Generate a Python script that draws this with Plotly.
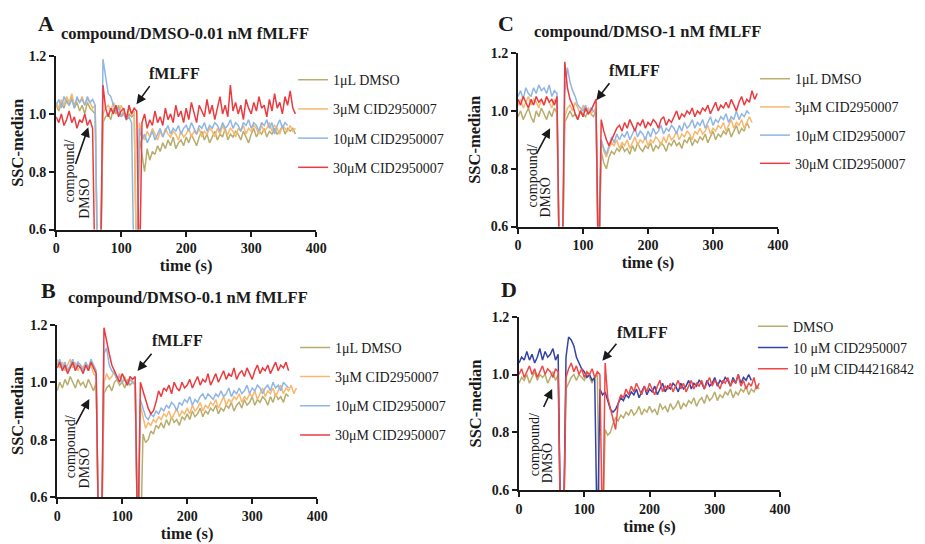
import plotly.graph_objects as go

W, H = 925, 544
# Measured page placement of the figure in the captured picture: origin offset + scale
OX, OY, SX, SY = 12.0, 16.0, 0.98, 0.97
FW, FH = 931, 544
T = list(range(0, 372, 4))  # sampling times (s)

# ---------------- Panel A: 0.01 nM fMLFF ----------------
A_dmso = [1.03,1.01,1.04,1.02,1.05,1.03,1.06,1.02,1.04,1.01,
          1.03,1.00,1.04,1.02,1.01,1.00,0.40,0.40,0.97,0.99,
          1.00,0.98,1.02,1.00,1.03,0.99,1.01,0.98,1.00,0.99,
          1.00,0.40,0.92,0.85,0.80,0.88,0.84,0.87,0.86,0.89,
          0.87,0.90,0.88,0.91,0.89,0.92,0.88,0.90,0.91,0.89,
          0.92,0.90,0.93,0.91,0.89,0.92,0.94,0.91,0.93,0.90,
          0.92,0.94,0.91,0.93,0.92,0.95,0.91,0.93,0.92,0.94,
          0.93,0.91,0.94,0.92,0.90,0.93,0.95,0.92,0.94,0.93,
          0.95,0.92,0.94,0.93,0.95,0.93,0.94,0.96,0.93,0.95,
          0.94,0.95,0.93]
A_3uM = [1.04,1.02,1.05,1.03,1.06,1.04,1.07,1.03,1.05,1.04,
         1.06,1.03,1.05,1.04,1.02,1.03,0.40,0.40,1.00,1.02,
         1.03,1.01,1.04,1.02,1.00,1.03,1.01,0.99,1.02,1.00,
         1.01,0.40,0.97,0.93,0.91,0.94,0.92,0.95,0.93,0.91,
         0.94,0.92,0.95,0.93,0.92,0.94,0.93,0.91,0.94,0.92,
         0.93,0.95,0.92,0.94,0.93,0.95,0.92,0.94,0.93,0.95,
         0.94,0.92,0.95,0.93,0.96,0.94,0.93,0.95,0.94,0.92,
         0.95,0.94,0.96,0.93,0.95,0.94,0.96,0.95,0.93,0.96,
         0.94,0.95,0.97,0.94,0.96,0.95,0.93,0.96,0.95,0.94,
         0.96,0.94,0.95]
A_10uM = [1.03,1.05,1.02,1.06,1.04,1.03,1.05,1.02,1.06,1.04,
          1.05,1.03,1.06,1.04,1.05,1.03,0.40,0.40,1.19,1.12,
          1.07,1.06,1.03,1.01,1.02,0.99,1.00,0.98,0.99,0.97,
          0.40,0.40,0.95,0.91,0.93,0.90,0.92,0.94,0.91,0.93,
          0.95,0.92,0.94,0.96,0.93,0.95,0.94,0.96,0.93,0.95,
          0.96,0.94,0.97,0.95,0.93,0.96,0.95,0.97,0.94,0.96,
          0.95,0.97,0.96,0.94,0.97,0.95,0.96,0.98,0.95,0.97,
          0.96,0.94,0.97,0.96,0.98,0.95,0.97,0.96,0.94,0.97,
          0.96,0.98,0.95,0.97,0.93,0.96,0.98,0.95,0.97,0.96]
A_30uM = [0.99,0.97,1.00,0.96,0.98,1.01,0.97,0.99,0.95,0.98,
          0.97,1.00,0.96,0.98,0.95,0.40,0.40,0.40,1.10,1.02,
          0.99,1.02,1.00,1.03,0.99,1.01,1.02,0.98,1.03,1.00,
          1.02,1.01,0.40,0.97,1.00,0.95,0.98,0.96,1.01,0.97,
          0.99,0.96,1.02,0.98,1.00,0.97,1.03,0.99,1.01,0.97,
          1.02,0.98,1.04,1.00,0.97,1.03,1.01,0.99,1.05,1.00,
          1.03,0.98,1.02,1.06,1.00,1.03,0.99,1.10,1.01,1.04,
          1.00,1.03,0.98,1.05,1.02,1.00,1.04,1.01,1.06,1.02,
          1.03,0.99,1.05,1.01,1.07,1.02,1.04,1.00,1.06,1.03,
          1.08,1.02,1.00]

# ---------------- Panel B: 0.1 nM fMLFF ----------------
B_dmso = [0.97,1.00,0.98,1.01,0.99,1.02,1.00,0.98,1.01,0.99,
          1.00,0.98,1.01,0.99,0.97,1.00,0.40,0.40,0.96,0.98,
          0.99,0.97,1.00,1.01,0.99,1.00,0.98,1.01,0.99,1.00,
          1.00,0.40,0.40,0.82,0.79,0.80,0.83,0.82,0.85,0.84,
          0.86,0.84,0.87,0.85,0.88,0.86,0.87,0.85,0.88,0.87,
          0.89,0.87,0.90,0.88,0.89,0.91,0.88,0.90,0.89,0.91,
          0.90,0.92,0.89,0.91,0.90,0.92,0.91,0.93,0.90,0.92,
          0.93,0.91,0.94,0.92,0.93,0.95,0.92,0.94,0.93,0.95,
          0.94,0.92,0.95,0.93,0.96,0.94,0.95,0.93,0.96,0.95]
B_3uM = [1.08,1.05,1.07,1.04,1.06,1.08,1.05,1.07,1.04,1.06,
         1.05,1.07,1.04,1.06,1.03,1.02,0.40,0.40,1.00,1.03,
         1.01,1.02,1.04,1.01,1.03,1.00,1.02,0.99,1.01,1.00,
         1.00,0.40,0.92,0.88,0.84,0.86,0.85,0.87,0.86,0.88,
         0.87,0.89,0.88,0.90,0.87,0.89,0.91,0.88,0.90,0.89,
         0.91,0.89,0.92,0.90,0.91,0.93,0.90,0.92,0.91,0.93,
         0.92,0.94,0.91,0.93,0.95,0.92,0.94,0.93,0.95,0.94,
         0.96,0.93,0.95,0.94,0.96,0.95,0.97,0.94,0.96,0.98,
         0.95,0.97,0.96,0.98,0.95,0.97,0.99,0.96,0.98,0.97,
         0.99,0.96,0.98]
B_10uM = [1.06,1.08,1.05,1.07,1.04,1.06,1.08,1.05,1.07,1.06,
          1.04,1.07,1.05,1.08,1.06,1.04,0.40,0.40,1.10,1.12,
          1.06,1.04,1.03,1.01,1.02,1.00,1.01,0.99,1.01,1.00,
          0.99,0.40,0.94,0.91,0.88,0.87,0.89,0.88,0.90,0.89,
          0.91,0.90,0.92,0.91,0.93,0.92,0.90,0.93,0.92,0.94,
          0.93,0.95,0.92,0.94,0.93,0.95,0.96,0.94,0.96,0.95,
          0.94,0.96,0.95,0.97,0.95,0.96,0.98,0.95,0.97,0.96,
          0.98,0.96,0.97,0.99,0.96,0.98,0.97,0.99,0.98,0.96,
          0.98,0.99,0.97,1.00,0.98,0.99,0.97,1.00,0.99,0.98]
B_30uM = [1.05,1.07,1.04,1.06,1.03,1.05,1.07,1.04,1.06,1.05,
          1.03,1.06,1.04,1.07,1.05,1.03,0.40,0.40,1.19,1.14,
          1.10,1.06,1.04,1.02,1.00,1.03,1.01,0.99,1.02,1.01,
          1.02,0.40,1.00,0.97,0.94,0.91,0.89,0.90,0.93,0.97,
          0.95,0.98,0.97,0.99,0.96,1.00,0.98,0.97,1.00,0.98,
          0.99,1.01,0.98,1.00,1.02,0.99,1.01,1.00,1.03,0.99,
          1.01,1.03,1.00,1.02,1.04,1.01,1.03,1.02,1.05,1.01,
          1.03,1.04,1.02,1.05,1.03,1.01,1.04,1.06,1.03,1.05,
          1.04,1.06,1.03,1.05,1.07,1.04,1.06,1.05,1.07,1.04]

# ---------------- Panel C: 1 nM fMLFF ----------------
C_dmso = [0.98,1.00,0.97,0.99,1.01,0.98,0.96,1.00,0.98,1.01,
          0.99,0.97,1.00,0.98,1.01,0.99,0.40,0.40,0.96,0.98,
          1.00,0.98,0.99,0.97,1.00,0.99,0.98,1.00,0.99,0.98,
          1.00,0.40,0.86,0.82,0.80,0.84,0.86,0.85,0.87,0.86,
          0.88,0.86,0.87,0.85,0.88,0.86,0.89,0.87,0.86,0.88,
          0.87,0.89,0.86,0.88,0.87,0.89,0.88,0.86,0.89,0.88,
          0.90,0.88,0.89,0.87,0.90,0.89,0.91,0.88,0.90,0.89,
          0.91,0.90,0.92,0.89,0.91,0.93,0.90,0.92,0.91,0.93,
          0.92,0.94,0.91,0.93,0.95,0.92,0.94,0.93,0.96,0.94]
C_3uM = [1.02,1.04,1.01,1.03,1.05,1.02,1.04,1.03,1.01,1.04,
         1.02,1.05,1.03,1.01,1.04,1.02,0.40,0.40,0.98,1.01,
         1.02,1.00,1.03,1.01,0.99,1.02,1.00,1.01,0.99,1.00,
         1.01,0.40,0.90,0.86,0.84,0.87,0.89,0.88,0.90,0.87,
         0.89,0.88,0.90,0.87,0.89,0.91,0.88,0.90,0.89,0.91,
         0.88,0.90,0.89,0.91,0.90,0.88,0.91,0.89,0.92,0.90,
         0.91,0.93,0.90,0.92,0.91,0.93,0.92,0.90,0.93,0.92,
         0.94,0.92,0.93,0.95,0.92,0.94,0.93,0.95,0.94,0.96,
         0.93,0.95,0.97,0.94,0.96,0.95,0.97,0.94,0.96,0.98,
         0.96]
C_10uM = [1.05,1.07,1.04,1.08,1.06,1.05,1.08,1.06,1.09,1.07,
          1.08,1.06,1.09,1.05,1.07,1.06,0.40,0.40,1.06,1.15,
          1.10,1.07,1.05,1.02,1.01,1.00,1.02,0.99,1.01,1.00,
          0.99,0.40,0.90,0.87,0.85,0.88,0.91,0.89,0.92,0.90,
          0.92,0.91,0.93,0.90,0.92,0.94,0.91,0.93,0.92,0.90,
          0.93,0.91,0.94,0.92,0.93,0.95,0.92,0.94,0.93,0.95,
          0.94,0.92,0.95,0.93,0.96,0.94,0.95,0.97,0.94,0.96,
          0.95,0.97,0.94,0.96,0.98,0.95,0.97,0.96,0.98,0.97,
          0.99,0.96,0.98,0.97,1.00,0.97,0.99,0.98,1.00,0.99]
C_30uM = [1.04,1.02,1.05,1.03,1.01,1.04,1.02,1.05,1.03,1.04,
          1.02,1.05,1.03,1.04,1.02,1.05,0.40,0.40,1.17,1.08,
          1.04,1.02,0.99,0.97,1.00,0.98,1.01,0.99,1.00,1.02,
          1.04,0.40,0.97,0.93,0.90,0.88,0.90,0.92,0.94,0.95,
          0.93,0.96,0.94,0.97,0.95,0.93,0.96,0.95,0.97,0.94,
          0.96,0.95,0.97,0.96,0.94,0.97,0.98,0.95,0.97,0.96,
          0.98,1.00,0.97,0.99,0.98,1.00,0.99,1.01,0.98,1.00,
          0.99,1.01,1.00,1.02,0.99,1.01,1.03,1.00,1.02,1.01,
          1.03,1.01,1.04,1.02,1.00,1.03,1.05,1.02,1.04,1.03,
          1.07,1.04,1.06]

# ---------------- Panel D ----------------
D_dmso = [0.97,0.99,0.98,1.00,0.97,0.99,1.01,0.98,1.00,0.99,
          1.00,0.97,0.99,1.01,0.98,1.00,0.40,0.40,0.95,0.97,
          0.99,1.00,0.98,1.00,0.99,0.98,1.00,0.99,0.97,0.99,
          1.00,0.40,0.40,0.81,0.79,0.80,0.83,0.85,0.84,0.86,
          0.85,0.87,0.86,0.88,0.86,0.87,0.89,0.86,0.88,0.87,
          0.89,0.87,0.88,0.86,0.90,0.88,0.89,0.87,0.90,0.88,
          0.89,0.91,0.88,0.90,0.89,0.91,0.90,0.92,0.89,0.91,
          0.92,0.90,0.93,0.91,0.92,0.94,0.91,0.93,0.92,0.94,
          0.93,0.95,0.92,0.94,0.93,0.95,0.94,0.96,0.93,0.95,
          0.94,0.96,0.95]
D_2950007 = [1.04,1.06,1.05,1.08,1.05,1.07,1.04,1.06,1.09,1.05,
             1.08,1.06,1.07,1.09,1.05,1.07,0.40,0.40,1.06,1.13,
             1.12,1.10,1.06,1.04,1.02,1.01,0.99,1.00,0.98,0.99,
             0.40,0.95,0.93,0.94,0.91,0.88,0.87,0.88,0.90,0.92,
             0.91,0.93,0.92,0.94,0.93,0.95,0.92,0.94,0.96,0.93,
             0.95,0.94,0.96,0.93,0.95,0.97,0.94,0.96,0.95,0.97,
             0.96,0.94,0.97,0.95,0.96,0.98,0.95,0.97,0.96,0.98,
             0.97,0.95,0.98,0.96,0.97,0.99,0.96,0.98,0.97,0.99,
             0.98,0.96,0.99,0.97,1.00,0.97,0.99,0.98,1.00,0.98]
D_44216842 = [1.00,1.02,0.99,1.01,1.03,1.00,1.02,0.99,1.01,1.03,
              1.00,1.02,1.01,0.99,1.02,1.01,0.40,0.40,0.99,1.02,
              1.04,1.01,1.03,1.00,1.02,0.99,1.01,1.00,1.02,0.99,
              1.01,1.00,0.40,1.04,0.92,0.88,0.85,0.81,0.90,0.93,
              0.92,0.95,0.93,0.96,0.94,0.97,0.95,0.93,0.96,0.94,
              0.97,0.95,0.93,0.96,0.98,0.94,0.96,0.95,0.97,0.94,
              0.96,0.98,0.95,0.97,0.94,0.96,0.98,0.95,0.97,0.96,
              0.98,0.95,0.97,0.99,0.96,0.98,0.97,0.95,0.98,0.97,
              0.99,0.96,0.98,0.97,1.00,0.96,0.98,0.95,0.97,0.96,
              0.99,0.95,0.97]

LABELS_ABC = ["1\u03bcL DMSO", "3\u03bcM CID2950007", "10\u03bcM CID2950007", "30\u03bcM CID2950007"]
LABELS_D = ["DMSO", "10 \u03bcM CID2950007", "10 \u03bcM CID44216842"]
COL_ABC = ["#B8AD6C", "#F8B86E", "#90B6E2", "#EA3B40"]
COL_D = ["#B8AD6C", "#3343A6", "#F04848"]

X_TICKS = [0, 100, 200, 300, 400]
Y_TICKS = [0.6, 0.8, 1.0, 1.2]

SERIF = "Liberation Serif"
INK = "#1a1a1a"

def fx(p):
    return ((p - OX) / SX) / FW

def fy(p):
    return 1 - ((p - OY) / SY) / FH

# panel pixel boxes in the target picture: (left, right, bottom, top)
panels = [
    dict(key="", series=[A_dmso, A_3uM, A_10uM, A_30uM], labels=LABELS_ABC, cols=COL_ABC,
         box=(56, 315, 230, 57), legend="legend", lg=(292, 65), gap=8, tstand=3),
    dict(key="2", series=[B_dmso, B_3uM, B_10uM, B_30uM], labels=LABELS_ABC, cols=COL_ABC,
         box=(57, 316, 497, 325), legend="legend2", lg=(294, 332), gap=8, tstand=0),
    dict(key="3", series=[C_dmso, C_3uM, C_10uM, C_30uM], labels=LABELS_ABC, cols=COL_ABC,
         box=(516, 775, 227, 54), legend="legend3", lg=(752, 64), gap=7, tstand=1),
    dict(key="4", series=[D_dmso, D_2950007, D_44216842], labels=LABELS_D, cols=COL_D,
         box=(517, 777, 490, 317), legend="legend4", lg=(750, 311), gap=0, tstand=2),
]

fig = go.Figure()
layout = {}
for pi, p in enumerate(panels):
    k = p["key"]
    for si, (vals, lab, col) in enumerate(zip(p["series"], p["labels"], p["cols"])):
        fig.add_trace(go.Scatter(
            x=T[:len(vals)], y=vals, mode="lines", name=lab,
            line=dict(color=col, width=1.5),
            xaxis="x" + k, yaxis="y" + k,
            legend=p["legend"], legendgroup=f"g{pi}{si}",
        ))
    l, r, b, t = p["box"]
    axis_common = dict(
        showline=True, linewidth=2, linecolor=INK, ticks="outside", ticklen=5,
        tickwidth=2, tickcolor=INK, showgrid=False, zeroline=False,
        tickfont=dict(family=SERIF, size=14, color=INK, weight="bold"),
    )
    layout["xaxis" + k] = dict(
        axis_common, domain=[fx(l), fx(r)], anchor="y" + k, range=[0, 400],
        tickvals=X_TICKS,
        title=dict(text="time (s)", standoff=p["tstand"],
                   font=dict(family=SERIF, size=16.5, color=INK, weight="bold")),
    )
    layout["yaxis" + k] = dict(
        axis_common, domain=[fy(b), fy(t)], anchor="x" + k, range=[0.6, 1.2],
        tickvals=Y_TICKS, tickformat=".1f",
        title=dict(text="SSC-median", standoff=6,
                   font=dict(family=SERIF, size=16.5, color=INK, weight="bold")),
    )
    lx, ly = p["lg"]
    layout[p["legend"]] = dict(
        x=fx(lx), y=fy(ly), xanchor="left", yanchor="top", xref="paper", yref="paper",
        bgcolor="rgba(0,0,0,0)", traceorder="grouped", tracegroupgap=p["gap"],
        font=dict(family=SERIF, size=14, color=INK), itemwidth=30,
    )

fig.update_layout(**layout)

annotations = []

def text_ann(x, y, s, size, bold=True, angle=0):
    annotations.append(dict(
        x=fx(x), y=fy(y), xref="paper", yref="paper", text=s, showarrow=False,
        xanchor="center", yanchor="middle", textangle=angle,
        font=dict(family=SERIF, size=size, color=INK, weight="bold" if bold else "normal"),
    ))

def arrow(tail, tip):
    annotations.append(dict(
        x=fx(tip[0]), y=fy(tip[1]), xref="paper", yref="paper", text="",
        showarrow=True, axref="pixel", ayref="pixel",
        ax=(tail[0] - tip[0]) / SX, ay=(tail[1] - tip[1]) / SY,
        arrowhead=2, arrowsize=1.2, arrowwidth=1.6, arrowcolor=INK, standoff=0,
    ))

# panel letters and titles
text_ann(46, 24, "A", 22)
text_ann(184, 34, "compound/DMSO-0.01 nM fMLFF", 16.5)
text_ann(48, 291, "B", 22)
text_ann(187, 298, "compound/DMSO-0.1 nM fMLFF", 16.5)
text_ann(504, 24, "C", 22)
text_ann(645, 32, "compound/DMSO-1 nM fMLFF", 16.5)
text_ann(507, 290, "D", 22)

# fMLFF markers
for (tx, ty), tail, tip in [
    ((174, 74), (150, 86), (136, 105)),
    ((177, 341), (152, 353), (137, 371)),
    ((632, 71), (608, 83), (594, 101)),
    ((640, 333), (615, 343), (600, 361)),
]:
    text_ann(tx, ty, "fMLFF", 16)
    arrow(tail, tip)

# compound/DMSO markers
for (c1, c2), tail, tip in [
    (((69, 172), (84, 199)), (75, 165), (88, 128)),
    (((70, 447), (84, 468)), (75, 425), (89, 399)),
    (((530, 177), (543, 198)), (534, 155), (548, 129)),
    (((532, 445), (545, 463)), (541, 408), (550, 389)),
]:
    text_ann(c1[0], c1[1], "compound/", 14, bold=False, angle=-90)
    text_ann(c2[0], c2[1], "DMSO", 14, bold=False, angle=-90)
    arrow(tail, tip)

fig.update_layout(
    annotations=annotations,
    width=FW, height=FH, margin=dict(l=0, r=0, t=0, b=0),
    paper_bgcolor="white", plot_bgcolor="white",
    showlegend=True,
)

fig.write_html("out.html")
